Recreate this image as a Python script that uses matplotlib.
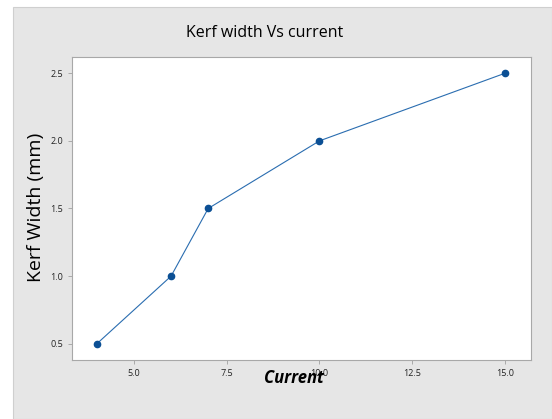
import matplotlib.pyplot as plt
from matplotlib.patches import Rectangle

# Kerf width vs current
current = [4, 6, 7, 10, 15]
kerf_width = [0.5, 1.0, 1.5, 2.0, 2.5]
xticks = [5.0, 7.5, 10.0, 12.5, 15.0]
yticks = [0.5, 1.0, 1.5, 2.0, 2.5]

plt.rcParams['font.family'] = ['Open Sans', 'DejaVu Sans']

fig = plt.figure(figsize=(5.52, 4.19), dpi=100, facecolor='white')
# gray panel behind the chart
fig.patches.append(Rectangle((13 / 552, 0), 1 - 13 / 552, 1 - 7 / 419,
                             transform=fig.transFigure, facecolor='#e6e6e6',
                             edgecolor='#cfcfcf', linewidth=0.8, zorder=-10))

ax = fig.add_axes([72 / 552, 1 - 360 / 419, (531 - 72) / 552, (360 - 57) / 419])
ax.set_facecolor('white')
ax.set_zorder(5)
ax.plot(current, kerf_width, color='#2a6db0', linewidth=0.8,
        marker='o', markersize=4.5, markerfacecolor='#0b4f94', markeredgecolor='#0b4f94')

ax.set_xlim(3.33, 15.7)
ax.set_ylim(0.38, 2.62)
ax.set_xticks(xticks)
ax.set_yticks(yticks)
ax.set_xticklabels([f'{t:.1f}' for t in xticks])
ax.set_yticklabels([f'{t:.1f}' for t in yticks])
ax.tick_params(labelsize=6.5, colors='#a0a0a0', labelcolor='#222222', length=3, width=0.6)
for s in ax.spines.values():
    s.set_color('#a8a8a8')
    s.set_linewidth(0.8)

fig.text(265 / 552, 1 - 33 / 419, 'Kerf width Vs current', ha='center', va='center',
         fontsize=11.5, fontweight='medium')
fig.text(36 / 552, 1 - 207 / 419, 'Kerf Width (mm)', ha='center', va='center',
         rotation=90, fontsize=14, fontweight='medium')
fig.text(294 / 552, 1 - 378 / 419, 'Current', ha='center', va='center',
         fontsize=12, fontweight='bold', fontstyle='italic', zorder=10)

fig.savefig('out.png', dpi=100)
